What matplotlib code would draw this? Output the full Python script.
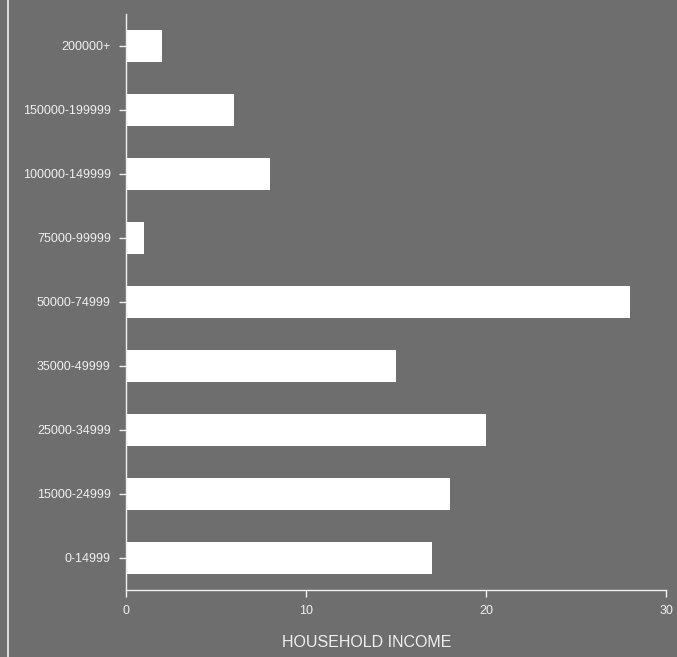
import matplotlib
matplotlib.use("Agg")
import matplotlib.pyplot as plt

plt.rcParams["font.family"] = ["Liberation Sans", "DejaVu Sans"]

categories = ["200000+", "150000-199999", "100000-149999", "75000-99999",
              "50000-74999", "35000-49999", "25000-34999", "15000-24999", "0-14999"]
values = [2, 6, 8, 1, 28, 15, 20, 18, 17]
x_ticks = [0, 10, 20, 30]

bg = "#6e6e6e"
fg = "#f0f0f0"

fig = plt.figure(figsize=(6.77, 6.57), dpi=100, facecolor=bg)
W, H = 677, 657
ax = fig.add_axes([126 / W, 1 - 590 / H, (666 - 126) / W, (590 - 14) / H])
ax.set_facecolor(bg)

pos = list(range(len(categories)))
ax.barh(pos, values, height=0.5, color="white", edgecolor="none")
ax.set_ylim(len(categories) - 0.5, -0.5)
ax.set_xlim(0, 30)
ax.set_yticks(pos)
ax.set_yticklabels(categories, fontsize=9, color=fg)
ax.set_xticks(x_ticks)
ax.set_xticklabels([str(t) for t in x_ticks], fontsize=9, color=fg)
ax.tick_params(axis="both", colors=fg, length=5, width=1)
ax.tick_params(axis="y", pad=6)
ax.tick_params(axis="x", pad=6)

for s in ["top", "right"]:
    ax.spines[s].set_visible(False)
for s in ["left", "bottom"]:
    ax.spines[s].set_color(fg)
    ax.spines[s].set_linewidth(1)

ax.set_xlabel("HOUSEHOLD INCOME", fontsize=11.5, color=fg, labelpad=13)
ax.xaxis.label.set_x(0.446)

# left vertical white line near the figure edge
fig.add_artist(plt.Line2D([8 / W, 8 / W], [0, 1], color=fg, linewidth=1.2,
                          transform=fig.transFigure))

fig.savefig("out.png", dpi=100, facecolor=bg)
